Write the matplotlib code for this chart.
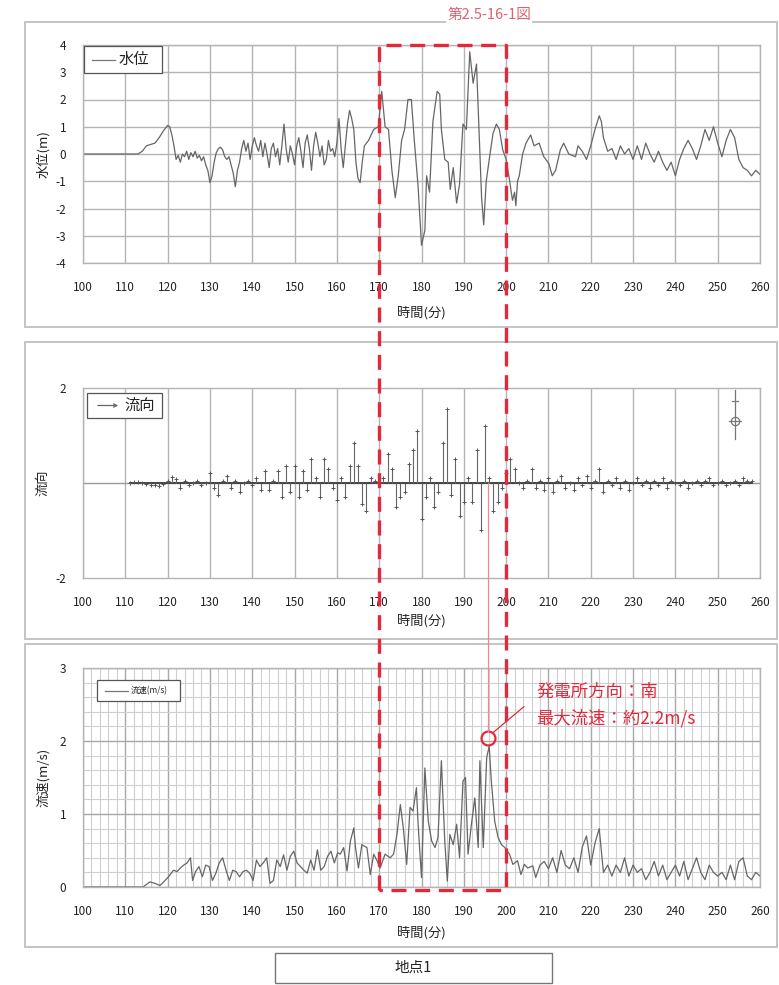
import matplotlib
matplotlib.use('Agg')
import matplotlib.pyplot as plt
from matplotlib.patches import Rectangle, FancyArrowPatch
from matplotlib.lines import Line2D
import numpy as np

plt.rcParams['font.family'] = ['Noto Sans CJK JP', 'DejaVu Sans']
plt.rcParams['axes.unicode_minus'] = False

# ---------------- data ----------------
level_t = [100, 113, 114, 115, 116, 117, 118, 119, 120, 120.5, 121, 121.5, 122, 122.5, 123, 123.5,
           124, 124.5, 125, 125.5, 126, 126.5, 127, 127.5, 128, 128.5, 129, 129.5, 130, 130.5,
           131, 131.5, 132, 132.5, 133, 133.5, 134, 134.5, 135, 135.5, 136, 136.5, 137, 137.5,
           138, 138.5, 139, 139.5, 140, 140.5, 141, 141.5, 142, 142.5, 143, 143.5, 144, 144.5,
           145, 145.5, 146, 146.5, 147, 147.5, 148, 148.5, 149, 149.5, 150, 150.5, 151, 151.5,
           152, 152.5, 153, 153.5, 154, 154.5, 155, 155.5, 156, 156.5, 157, 157.5, 158, 158.5,
           159, 159.5, 160, 160.5, 161, 161.5, 162, 162.5, 163, 163.5, 164, 164.5, 165, 165.5,
           166, 166.5, 167.5, 168.7, 169.8, 170.6, 171.4, 172.2, 173, 173.8, 174.5, 175.3, 176,
           176.8, 177.6, 178.3, 179.2, 180, 180.8, 181.2, 181.9, 182.7, 183.7, 184.3, 184.7,
           185.5, 186.3, 186.8, 187.5, 188.3, 189, 189.8, 190.6, 191.4, 192.2, 193, 193.6, 194.2,
           194.7, 195.3, 196.1, 196.9, 197.7, 198.4, 199.2, 200, 200.8, 201.5, 202, 202.3, 202.7,
           203.1, 203.9, 204.7, 205.8, 206.6, 207.8, 208.9, 210.1, 210.9, 211.7, 212.8, 213.6,
           214.8, 216.4, 217, 218, 219, 220, 221, 222, 222.5, 223, 224, 225, 226, 227, 228, 229,
           230, 231, 232, 233, 234, 235, 236, 237, 238, 239, 240, 241, 242, 243, 244, 245, 246,
           247, 248, 249, 250, 251, 252, 253, 254, 255, 256, 257, 258, 259, 260]
level_v = [0, 0, 0.1, 0.3, 0.35, 0.4, 0.6, 0.85, 1.05, 1.0, 0.7, 0.3, -0.2, -0.05, -0.3, 0.0,
           -0.1, 0.1, -0.2, 0.05, -0.1, 0.1, -0.15, -0.05, -0.25, -0.1, -0.4, -0.6, -1.05, -0.8,
           -0.3, 0.05, 0.2, 0.25, 0.15, -0.1, -0.2, -0.1, -0.4, -0.7, -1.2, -0.6, -0.3, 0.2,
           0.5, 0.1, 0.4, -0.2, 0.3, 0.6, 0.3, 0.1, 0.5, -0.1, 0.4, 0.0, -0.5, 0.2,
           0.4, -0.1, 0.2, -0.4, 0.3, 1.1, 0.2, -0.3, 0.3, 0.0, -0.4, 0.3, 0.6, 0.1,
           -0.5, 0.4, 0.7, 0.2, -0.6, 0.3, 0.8, 0.4, -0.1, 0.3, -0.4, -0.2, 0.5, 0.1,
           0.2, -0.1, 0.4, 1.3, 0.2, -0.5, 0.3, 1.1, 1.6, 1.3, 0.9, -0.3, -0.9, -1.05,
           -0.3, 0.3, 0.5, 0.9, 1.0, 2.3, 1.0, 0.9, -0.6, -1.6, -0.8, 0.5, 0.9,
           2.0, 2.0, 0.5, -1.2, -3.35, -2.8, -0.8, -1.4, 1.2, 2.3, 2.2, 0.9,
           -0.2, -0.3, -1.3, -0.5, -1.8, -1.1, 1.1, 0.9, 3.75, 2.6, 3.3, 0.9, -1.6,
           -2.6, -1.0, -0.1, 0.75, 1.1, 0.9, 0.15, -0.2, -0.95, -1.7, -1.4, -1.9, -1.0,
           -0.8, 0.0, 0.4, 0.7, 0.3, 0.4, -0.1, -0.35, -0.8, -0.6, 0.15, 0.4,
           0.0, -0.1, 0.3, 0.1, -0.2, 0.3, 0.9, 1.4, 1.2, 0.6, 0.1, 0.2, -0.2, 0.3, 0.0, 0.2,
           -0.2, 0.3, -0.2, 0.4, 0.0, -0.3, 0.1, -0.3, -0.6, -0.3, -0.8, -0.2, 0.2, 0.5, 0.2, -0.2, 0.3,
           0.9, 0.5, 1.0, 0.4, -0.1, 0.5, 0.9, 0.6, -0.2, -0.5, -0.6, -0.8, -0.6, -0.75]

dir_t = list(range(111, 259))
dir_v = [0.0, 0.02, 0.03, 0.0, -0.03, -0.05, -0.05, -0.06, -0.03, 0.05,
         0.12, 0.08, -0.1, 0.05, -0.05, 0.0, 0.05, -0.05, 0.0, 0.2,
         -0.1, -0.25, 0.05, 0.15, -0.1, 0.05, -0.2, 0.0, 0.05, -0.05,
         0.1, -0.15, 0.25, -0.15, 0.05, 0.25, -0.3, 0.35, -0.2, 0.35,
         -0.3, 0.25, -0.15, 0.5, 0.1, -0.3, 0.5, 0.3, -0.1, -0.35,
         0.1, -0.3, 0.35, 0.85, 0.35, -0.45, -0.6, 0.1, 0.05, 0.0,
         0.1, 0.6, 0.3, -0.5, -0.3, -0.2, 0.4, 0.7, 1.1, -0.75,
         -0.3, 0.1, -0.5, -0.2, 0.85, 1.55, -0.25, 0.5, -0.7, -0.4,
         0.1, -0.4, 0.7, -1.0, 1.2, 0.1, -0.6, -0.4, -0.1, 0.2,
         0.5, 0.3, 0.0, -0.1, 0.05, 0.3, -0.1, 0.05, -0.15, 0.1,
         -0.2, 0.05, 0.15, -0.1, 0.0, -0.15, 0.1, -0.05, 0.15, -0.1,
         0.05, 0.3, -0.2, 0.05, -0.05, 0.1, -0.1, 0.05, -0.15, 0.0,
         0.1, -0.05, 0.05, -0.1, 0.05, -0.05, 0.1, -0.1, 0.05, 0.0,
         -0.05, 0.05, -0.1, 0.0, 0.05, -0.05, 0.05, 0.1, -0.05, 0.0,
         0.05, -0.05, 0.0, 0.05, -0.05, 0.1, 0.05, 0.05]

speed_t = [100, 114.2, 115.8, 117, 118.2, 119.4, 120.2, 121.4, 122.2, 123, 123.8, 124.6, 125.4,
           125.9, 126.6, 127.4, 128.2, 129, 129.8, 130.6, 131.4, 132.2, 133, 133.8, 134.6, 135.4,
           136.2, 137, 137.8, 138.6, 139.4, 140.2, 141, 141.8, 142.6, 143.4, 144.2, 145, 145.8,
           146.6, 147.4, 148.2, 149, 149.8, 150.6, 151.4, 152.2, 153, 153.8, 154.6, 155.4, 156.2,
           157, 157.8, 158.6, 159.4, 160.2, 160.8, 161.6, 162.4, 163.2, 164, 164.4, 165.1, 165.9,
           167.1, 167.9, 168.7, 169.5, 170.2, 171.4, 172.6, 173.4, 174.2, 175, 175.7, 176.5,
           177.3, 178, 178.8, 179.2, 180, 180.8, 181.6, 182.4, 183.2, 183.9, 184.7, 185.5, 186.1,
           186.7, 187.5, 188.3, 189, 189.8, 190.4, 191, 191.8, 192.6, 193.4, 193.8, 194.6, 195.4,
           196, 196.5, 197.3, 198.1, 198.9, 199.7, 200.8, 201.6, 202.7, 203.5, 204.3, 205.1,
           206.3, 207, 208, 209, 210, 211, 212, 213, 214, 215, 216, 217, 218, 219, 220, 221, 222,
           223, 224, 225, 226, 227, 228, 229, 230, 231, 232, 233, 234, 235, 236, 237, 238, 239,
           240, 241, 242, 243, 244, 245, 246, 247, 248, 249, 250, 251, 252, 253, 254, 255, 256,
           257, 258, 259, 260]
speed_v = [0, 0, 0.07, 0.05, 0.02, 0.09, 0.14, 0.23, 0.21, 0.26, 0.3, 0.33, 0.4,
           0.09, 0.21, 0.28, 0.14, 0.3, 0.28, 0.09, 0.19, 0.33, 0.4, 0.23, 0.09, 0.23,
           0.21, 0.14, 0.21, 0.23, 0.19, 0.09, 0.37, 0.28, 0.33, 0.4, 0.05, 0.09, 0.37,
           0.28, 0.44, 0.23, 0.42, 0.49, 0.33, 0.28, 0.23, 0.19, 0.37, 0.23, 0.51, 0.23,
           0.28, 0.42, 0.49, 0.33, 0.47, 0.45, 0.54, 0.22, 0.63, 0.81, 0.54, 0.26, 0.58,
           0.54, 0.17, 0.45, 0.36, 0.26, 0.45, 0.4, 0.45, 0.72, 1.13, 0.81, 0.31,
           1.09, 1.04, 1.36, 0.86, 0.13, 1.63, 0.9, 0.63, 0.54, 0.68, 1.73, 0.63, 0.08,
           0.72, 0.58, 0.86, 0.4, 1.45, 1.5, 0.45, 0.86, 1.22, 0.54, 1.73, 0.54, 1.77,
           1.93, 1.45, 0.9, 0.68, 0.58, 0.54, 0.45, 0.31, 0.36, 0.17, 0.31, 0.26,
           0.29, 0.13, 0.3, 0.35, 0.25, 0.4, 0.2, 0.5, 0.3, 0.25, 0.4, 0.2, 0.55, 0.7, 0.3, 0.6, 0.8,
           0.2, 0.3, 0.15, 0.3, 0.2, 0.4, 0.15, 0.3, 0.2, 0.25, 0.1, 0.2, 0.35, 0.15, 0.3, 0.1, 0.2,
           0.3, 0.15, 0.35, 0.1, 0.25, 0.4, 0.2, 0.1, 0.3, 0.2, 0.15, 0.2, 0.1, 0.3, 0.1, 0.35, 0.4,
           0.15, 0.1, 0.2, 0.15]

xticks = list(range(100, 261, 10))
level_ticks = [4, 3, 2, 1, 0, -1, -2, -3, -4]
dir_ticks = [2, -2]
speed_ticks = [0, 1, 2, 3]
highlight = (170, 200)
peak = (195.6, 2.04)

# ---------------- layout ----------------
W, H = 779, 985
fig = plt.figure(figsize=(W / 100, H / 100), dpi=100)


def rect(l, r, t, b):
    return [l / W, 1 - b / H, (r - l) / W, (b - t) / H]


def fx(x):
    return x / W


def fy(y):
    return 1 - y / H


# panel frames
for (l, r, t, b) in [(25, 777, 22, 327), (25, 777, 342, 639), (25, 777, 644, 947)]:
    fig.patches.append(Rectangle((fx(l), fy(b)), (r - l) / W, (b - t) / H, transform=fig.transFigure,
                                 fill=False, ec='#c4c4c4', lw=1.4, zorder=0))

ax1 = fig.add_axes(rect(83, 760, 45, 263))
ax2 = fig.add_axes(rect(83, 760, 388, 578))
ax3 = fig.add_axes(rect(83, 760, 668, 887))

gridc = '#b4b4b4'
linec = '#666666'
txtc = '#222222'

for ax in (ax1, ax2, ax3):
    ax.set_xlim(100, 260)
    ax.set_xticks(xticks)
    ax.tick_params(axis='both', length=0, labelsize=8.5, colors=txtc)
    ax.tick_params(axis='x', pad=13)
    ax.tick_params(axis='y', pad=12)
    for s in ax.spines.values():
        s.set_color(gridc)
        s.set_linewidth(1.0)
    ax.set_axisbelow(True)

# panel 1 : water level
ax1.set_ylim(-4, 4)
ax1.set_yticks(level_ticks)
ax1.grid(True, color=gridc, lw=1.0)
ax1.plot(level_t, level_v, color=linec, lw=0.9)

# panel 2 : flow direction
ax2.set_ylim(-2, 2)
ax2.set_yticks(dir_ticks)
ax2.grid(True, axis='x', color=gridc, lw=1.0)
ax2.axhline(0, color='#9a9a9a', lw=1.0, zorder=1)
ax2.plot([dir_t[0], dir_t[-1]], [0, 0], color='#3a3a3a', lw=1.3, zorder=2)
ax2.vlines(dir_t, 0, dir_v, color=linec, lw=0.8, zorder=3)
ax2.plot(dir_t, dir_v, linestyle='none', marker='+', ms=3.5, mew=0.7, color='#555555', zorder=4)
# north symbol
ax2.plot([254, 254], [1.95, 0.92], color='#777777', lw=0.9)
ax2.plot([254], [1.3], marker='o', ms=6, mfc='none', mec='#777777', mew=0.9)
ax2.plot([252.6, 255.4], [1.3, 1.3], color='#777777', lw=0.9)
ax2.plot([253.3, 254.7], [1.72, 1.72], color='#777777', lw=0.9)

# panel 3 : speed
ax3.set_ylim(0, 3)
ax3.set_yticks(speed_ticks)
ax3.set_xticks(np.arange(100, 261, 2), minor=True)
ax3.set_yticks(np.arange(0, 3.01, 0.2), minor=True)
ax3.tick_params(which='minor', length=0)
ax3.grid(True, which='minor', color='#cfcfcf', lw=0.8)
ax3.grid(True, which='major', color='#a8a8a8', lw=1.0)
ax3.plot(speed_t, speed_v, color=linec, lw=0.9)

# axis labels
for y in (313, 621, 933):
    fig.text(fx(421), fy(y), '時間(分)', ha='center', va='center', fontsize=9.5, color=txtc)
fig.text(fx(43), fy(154), '水位(m)', ha='center', va='center', rotation=90, fontsize=9.5, color=txtc)
fig.text(fx(43), fy(483), '流向', ha='center', va='center', rotation=90, fontsize=9.5, color=txtc)
fig.text(fx(43), fy(777), '流速(m/s)', ha='center', va='center', rotation=90, fontsize=9.5, color=txtc)


# legends
def legend_box(l, r, t, b, label, fs, arrow=False, x0=None, x1=None, tx=None):
    fig.patches.append(Rectangle((fx(l), fy(b)), (r - l) / W, (b - t) / H, transform=fig.transFigure,
                                 fc='white', ec='#555555', lw=0.9, zorder=5))
    ym = (t + b) / 2
    if arrow:
        fig.patches.append(FancyArrowPatch((fx(x0), fy(ym)), (fx(x1), fy(ym)),
                                           transform=fig.transFigure, arrowstyle='->',
                                           mutation_scale=6, color='#666666', lw=0.9, zorder=6))
    else:
        fig.lines.append(Line2D([fx(x0), fx(x1)], [fy(ym), fy(ym)], transform=fig.transFigure,
                                color='#777777', lw=0.9, zorder=6))
    fig.text(fx(tx), fy(ym), label, ha='left', va='center', fontsize=fs, color=txtc, zorder=7)


legend_box(84, 162, 46, 73, '水位', 11, x0=92, x1=115, tx=119)
legend_box(87, 162, 393, 418, '流向', 11, arrow=True, x0=95, x1=121, tx=124)
legend_box(97, 180, 680, 701, '流速(m/s)', 6, x0=105, x1=128, tx=131)

# highlight rectangle spanning the panels
inv = fig.transFigure.inverted()
x0, y0 = inv.transform(ax1.transData.transform((highlight[0], 4)))
x1, y1 = inv.transform(ax3.transData.transform((highlight[1], 0)))
y1 -= 3 / H
red = '#e4283c'
fig.lines.append(Line2D([x0, x0, x1, x1, x0], [y1, y0, y0, y1, y1], transform=fig.transFigure,
                        color=red, lw=2.4, dashes=(4.5, 2.6), zorder=8))

# connector from flow-direction panel to peak circle
cx_top = inv.transform(ax2.transData.transform((peak[0], 0)))
cx_bot = inv.transform(ax3.transData.transform((peak[0], peak[1])))
fig.lines.append(Line2D([cx_top[0], cx_bot[0]], [cx_top[1], cx_bot[1] + 6 / H], transform=fig.transFigure,
                        color='#e98a92', lw=0.9, zorder=7))

ax3.plot([peak[0]], [peak[1]], marker='o', ms=10, mfc='none', mec=red, mew=1.6, zorder=9)
ax3.plot([peak[0] + 1.2, 204.2], [peak[1] + 0.07, 2.47], color=red, lw=0.9, zorder=9)
ax3.text(207.2, 2.67, '発電所方向：南', color=red, fontsize=12.5, ha='left', va='center', zorder=9)
ax3.text(207.2, 2.31, '最大流速：約2.2m/s', color=red, fontsize=12.5, ha='left', va='center', zorder=9)

# title and footer
fig.text(fx(489), fy(15), '第2.5-16-1図', color='#e0606c', fontsize=10.5, ha='center', va='center',
         bbox=dict(fc='white', ec='none', pad=1))
fig.patches.append(Rectangle((fx(275), fy(983)), (552 - 275) / W, 30 / H, transform=fig.transFigure,
                             fill=False, ec='#777777', lw=1.0))
fig.text(fx(413), fy(968), '地点1', ha='center', va='center', fontsize=10.5, color=txtc)

fig.savefig('out.png', dpi=100)
